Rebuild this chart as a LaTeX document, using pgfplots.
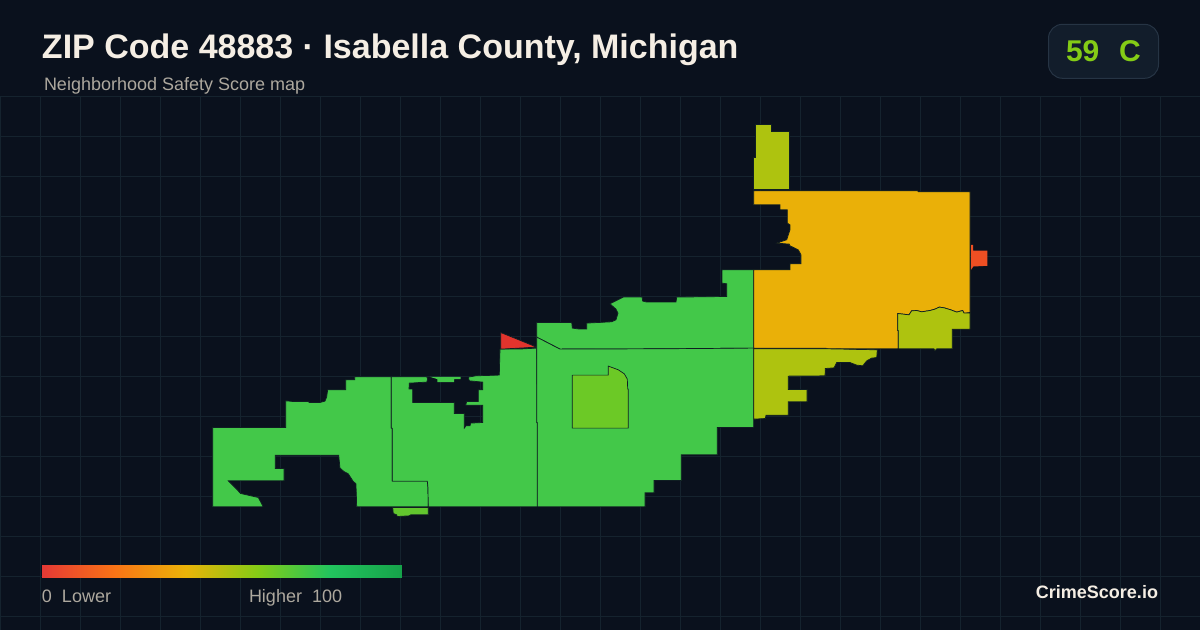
\documentclass[border=0pt]{standalone}
\usepackage{fontspec}
\setmainfont{Liberation Sans}
\usepackage{pgfplots}
\pgfplotsset{compat=1.18}
\definecolor{bgc}{HTML}{0A111D}
\definecolor{gridc}{HTML}{15232E}
\definecolor{edgec}{HTML}{0F1E22}
\definecolor{greenc}{HTML}{43C849}
\definecolor{parcelc}{HTML}{6CC926}
\definecolor{limec}{HTML}{62C62E}
\definecolor{yellowc}{HTML}{AEC30F}
\definecolor{orangec}{HTML}{EAB008}
\definecolor{redc}{HTML}{E2342D}
\definecolor{redoc}{HTML}{EE4F23}
\definecolor{titlec}{HTML}{F5EEE4}
\definecolor{subc}{HTML}{ADA89E}
\definecolor{badgec}{HTML}{121D2B}
\definecolor{badgeb}{HTML}{263444}
\definecolor{scorec}{HTML}{84CC16}
\newcommand{\fs}[1]{\fontsize{#1}{#1}\selectfont}
\tikzset{
  parcel/.style={draw=edgec, line width=0.7pt, line join=miter},
  txt/.style={anchor=base west, inner sep=0pt, outer sep=0pt},
}
\begin{document}
\begin{tikzpicture}
\begin{axis}[
  width=1200pt, height=630pt, scale only axis,
  xmin=0, xmax=1200, ymin=0, ymax=630, y dir=reverse,
  hide axis, clip=false,
  colormap={score}{rgb255=(229,57,53) rgb255=(249,115,22) rgb255=(234,179,8) rgb255=(132,204,22) rgb255=(34,197,94) rgb255=(22,163,74)},
]
% background, a little past the page so no edge is left bare
\addplot[fill=bgc, draw=none] coordinates {(-3,-3) (1203,-3) (1203,633) (-3,633) (-3,-3)};
% grid
\pgfplotsinvokeforeach{0.5,40.5,...,1160.5}{
  \addplot[gridc, line width=1pt] coordinates {(#1,96) (#1,630)};
}
\pgfplotsinvokeforeach{96.5,136.5,...,616.5}{
  \addplot[gridc, line width=1pt] coordinates {(0,#1) (1200,#1)};
}
% west tract
\addplot[parcel, fill=greenc] coordinates {
(212.7,427.7) (285.7,427.7) (285.7,401) (293,401.7) (309,401.7) (309,402.7) (320,402.7) (325,401.3)
(326.7,397) (327.7,390) (345.7,390) (345.7,380) (354.7,380) (354.7,377) (391.3,377)
(391.3,428.3) (392.3,428.3) (392.3,481.3) (427.3,481.3) (428,488) (428.3,507)
(356.7,507) (356,484) (353.3,481.7) (348.3,474) (344,471.7) (340,468.3) (338.7,455.3)
(275.3,455.3) (275.3,468.7) (284,468.7) (284,481) (228.3,481) (240.7,493.7) (258.3,497.7)
(262.7,506) (263,507) (212.7,507) (212.7,427.7)};
% middle tract with the hole opened through the notch on top
\addplot[parcel, fill=greenc] coordinates {
(391.3,377) (426.7,377) (427.7,379.3) (426.7,382.3) (409.3,383.3) (409,389.3) (412.7,389.3)
(412.7,402.7) (454.3,402.7) (454.3,413.7) (464.3,413.7) (464.3,428.3) (466,426) (470,426)
(470.7,423.3) (482.7,422.7) (482.7,405.3) (465.7,405.3) (466.7,401.7) (478.3,401.7) (478.3,390)
(482.7,390) (482.7,382.3) (469.3,381) (468.3,377.3) (476,376) (499.3,375.3) (500,349.3)
(519.3,349.3) (536.7,348.3) (537,423) (537.7,423.3) (537.7,507) (428.3,507) (428,488)
(427.3,481.3) (392.3,481.3) (392.3,428.3) (391.3,428.3) (391.3,377)};
\addplot[fill=greenc, draw=none] coordinates {
(430,377) (437.3,379.3) (437.3,382.3) (454,382.3) (454,379.3) (460.7,379.3) (460.7,377) (430,377)};
% sliver below
\addplot[parcel, fill=limec] coordinates {
(392.7,507.7) (428.3,507.7) (428.3,515) (410.7,515) (409.3,516) (397.3,516.7) (396.7,515) (393.3,513.7) (392.7,507.7)};
% red triangle
\addplot[parcel, fill=redc] coordinates {
(500.7,332.7) (536.7,347.3) (519.3,348.3) (500.7,349.3) (500.7,332.7)};
% north centre
\addplot[parcel, fill=greenc] coordinates {
(536.7,322.7) (571.7,322.7) (572.3,328.3) (579.3,329.3) (586.7,329.3) (586.7,323.3) (611.7,322)
(616,320) (618,313.3) (616,309.3) (610,304) (623.3,297.3) (642,297.3) (642.7,301.3) (646.7,302.3)
(676,302.3) (676.7,297.3) (726.7,296.7) (726.7,284) (722,283.3) (722,270) (753.7,270)
(753.7,348.3) (657.7,349) (560,349.3) (536.7,337.3) (536.7,322.7)};
% south centre
\addplot[parcel, fill=greenc] coordinates {
(536.7,337.3) (560,349.3) (657.7,349) (753.7,348.3) (753.7,427.7) (717.3,427.7) (717.3,455)
(681.3,455) (681.3,480.7) (654,480.7) (654,493) (645,493) (645,507) (537.3,507) (537.3,422.7)
(536.7,422.7) (536.7,337.3)};
% inner parcel
\addplot[parcel, fill=parcelc] coordinates {
(572.3,375.3) (608.3,375.3) (608.3,366.3) (618.3,370) (624.3,374) (627.3,379.3) (627.7,389.3)
(628.3,389.3) (628.3,428.3) (572.3,428.3) (572.3,375.3)};
% north tip
\addplot[parcel, fill=yellowc] coordinates {
(755,125) (771,125) (771,132) (789,132) (789,189.7) (753.7,189.7) (753.7,157.7) (755,157.7) (755,125)};
% large orange tract
\addplot[parcel, fill=orangec] coordinates {
(753.7,191) (917.7,191) (918.3,192) (970,192) (970,312.7) (964,313.3) (962.7,310.7) (956.7,312.3)
(950.7,310) (944,308) (939.3,307.3) (935,309.3) (930,310.7) (921.7,312) (916.7,310.7) (911.7,311)
(909,315) (897.7,313.7) (897.7,330.7) (898.3,330.7) (898.3,349) (826,349) (826,348.3) (753.7,348.3)
(753.7,270) (790,270) (790,264) (801,264) (801,255) (798.3,250) (790,246) (789.3,244.3) (776.7,243.3)
(786.7,240) (790,230) (790,225) (787.3,223.3) (787.3,210) (780,210) (780,205) (753.7,205) (753.7,191)};
% red-orange stub
\addplot[fill=redoc, draw=none] coordinates {
(971,245) (973,245) (973,250.7) (987.3,250.7) (987.3,266) (973.3,266.7) (971,270) (971,245)};
% east yellow
\addplot[parcel, fill=yellowc] coordinates {
(970,313.3) (970,329.3) (952.3,329.3) (952.3,349) (936.7,349) (935,351) (934,349) (898.3,349)
(898.3,330.7) (897.7,330.7) (897.7,313.7) (909,315) (911.7,311) (916.7,310.7) (921.7,312) (930,310.7)
(935,309.3) (939.3,307.3) (944,308) (950.7,310) (956.7,312.3) (962.7,310.7) (964,313.3) (970,313.3)};
% south yellow
\addplot[parcel, fill=yellowc] coordinates {
(753.7,349) (826,349) (877.3,350) (876.7,357.7) (871.7,358.3) (866.7,361) (862.7,366) (856.7,365.3)
(850,362.7) (836.7,362.7) (834,368) (825.3,368.7) (825,376) (788.3,376.3) (788.3,389.7) (807,389.7)
(807,402) (788.3,402) (788.3,415.3) (766,415.3) (765.3,418.7) (753.7,419.3) (753.7,349)};
% legend bar
\addplot[surf, shader=interp, mesh/rows=2, point meta=explicit] coordinates {
(42,565) [0] (401.7,565) [100]
(42,578) [0] (401.7,578) [100]};
% badge
\draw[fill=badgec, draw=badgeb, line width=1pt, rounded corners=14pt]
  (axis cs:1048.5,24.5) rectangle (axis cs:1158.5,78.5);
% texts
\node[txt, text=titlec] at (axis cs:42,58.3) {\fs{34}\bfseries ZIP Code 48883 · Isabella County, Michigan};
\node[txt, text=subc] at (axis cs:44,91) {\fs{18}Neighborhood Safety Score map};
\node[txt, text=scorec] at (axis cs:1066,61.3) {\fs{30}\bfseries 59\ \ \hspace{3pt}C};
\node[txt, text=subc] at (axis cs:42,603) {\fs{18}0\ \ Lower};
\node[txt, text=subc] at (axis cs:249,603) {\fs{18}Higher\ \ 100};
\node[txt, anchor=base east, text=titlec] at (axis cs:1158,599) {\fs{18}\bfseries CrimeScore.io};
\end{axis}
\pgfresetboundingbox
\useasboundingbox (0,0) rectangle (1200pt,629.8pt);
\end{tikzpicture}
\end{document}
